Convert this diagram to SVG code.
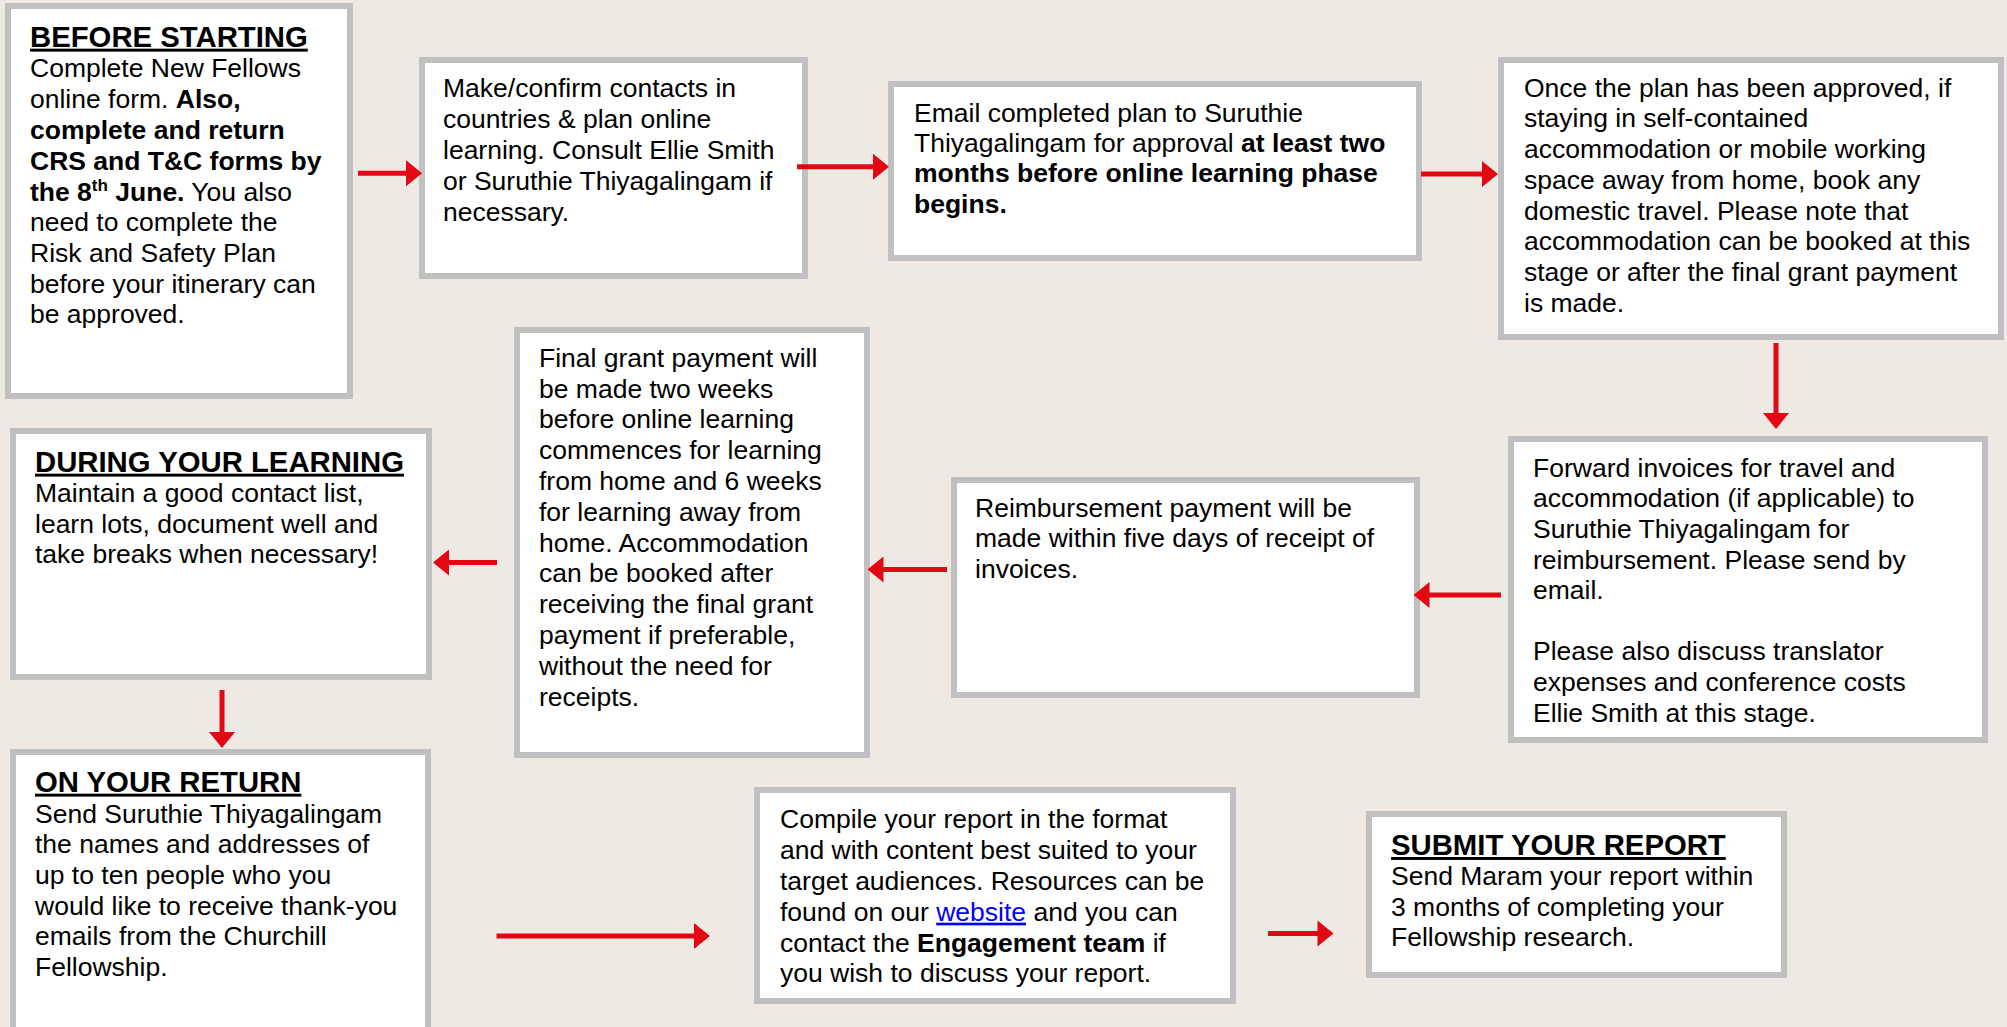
<svg xmlns="http://www.w3.org/2000/svg" width="2007" height="1027" viewBox="0 0 2007 1027">
<style>
.bg{fill:#eee9e3}
.box{fill:#ffffff;stroke:#c0c0c0;stroke-width:6}
.t{font-family:"Liberation Sans",Arial,sans-serif;font-size:26.5px;fill:#000}
.h{font-family:"Liberation Sans",Arial,sans-serif;font-size:29.3px;font-weight:bold;fill:#000;text-decoration:underline;text-decoration-thickness:3.5px}
.b{font-weight:bold}
.lnk{fill:#0000ff;text-decoration:underline}
.arr{stroke:#e30613;stroke-width:5;fill:none;marker-end:url(#ah)}
</style>
<defs>
<marker id="ah" markerUnits="userSpaceOnUse" markerWidth="17" markerHeight="26" viewBox="0 0 16 26" refX="6" refY="13" orient="auto">
<path d="M0,0 L16,13 L0,26 z" fill="#e30613"/>
</marker>
</defs>
<rect class="bg" x="0" y="0" width="2007" height="1027"/>

<g id="before-starting">
<rect class="box" x="8" y="6" width="342" height="390"/>
<text class="h" x="30" y="46.7">BEFORE STARTING</text>
<text class="t">
<tspan x="30" y="77.3">Complete New Fellows</tspan>
<tspan x="30" y="108.3">online form. <tspan class="b">Also,</tspan></tspan>
<tspan x="30" y="139.3" class="b">complete and return</tspan>
<tspan x="30" y="170" class="b">CRS and T&amp;C forms by</tspan>
<tspan x="30" y="200.5" class="b">the 8<tspan font-size="17" dy="-10">th</tspan><tspan dy="10"> June.</tspan></tspan><tspan> You also</tspan>
<tspan x="30" y="231">need to complete the</tspan>
<tspan x="30" y="261.7">Risk and Safety Plan</tspan>
<tspan x="30" y="292.5">before your itinerary can</tspan>
<tspan x="30" y="323.3">be approved.</tspan>
</text>
</g>

<g id="contacts">
<rect class="box" x="422" y="60" width="383" height="216"/>
<text class="t">
<tspan x="443" y="96.7">Make/confirm contacts in</tspan>
<tspan x="443" y="128">countries &amp; plan online</tspan>
<tspan x="443" y="159">learning. Consult Ellie Smith</tspan>
<tspan x="443" y="190">or Suruthie Thiyagalingam if</tspan>
<tspan x="443" y="220.5">necessary.</tspan>
</text>
</g>

<g id="email-plan">
<rect class="box" x="891" y="84" width="528" height="174"/>
<text class="t">
<tspan x="914" y="121.7">Email completed plan to Suruthie</tspan>
<tspan x="914" y="152">Thiyagalingam for approval <tspan class="b">at least two</tspan></tspan>
<tspan x="914" y="182.3" class="b">months before online learning phase</tspan>
<tspan x="914" y="212.7" class="b">begins.</tspan>
</text>
</g>

<g id="plan-approved">
<rect class="box" x="1501" y="60" width="500" height="277"/>
<text class="t">
<tspan x="1524" y="96.7">Once the plan has been approved, if</tspan>
<tspan x="1524" y="127.4">staying in self-contained</tspan>
<tspan x="1524" y="158.1">accommodation or mobile working</tspan>
<tspan x="1524" y="188.8">space away from home, book any</tspan>
<tspan x="1524" y="219.5">domestic travel. Please note that</tspan>
<tspan x="1524" y="250.2">accommodation can be booked at this</tspan>
<tspan x="1524" y="280.9">stage or after the final grant payment</tspan>
<tspan x="1524" y="311.6">is made.</tspan>
</text>
</g>

<g id="forward-invoices">
<rect class="box" x="1511" y="439" width="474" height="301"/>
<text class="t">
<tspan x="1533" y="476.7">Forward invoices for travel and</tspan>
<tspan x="1533" y="507.3">accommodation (if applicable) to</tspan>
<tspan x="1533" y="537.9">Suruthie Thiyagalingam for</tspan>
<tspan x="1533" y="568.5">reimbursement. Please send by</tspan>
<tspan x="1533" y="599.1">email.</tspan>
<tspan x="1533" y="660.3">Please also discuss translator</tspan>
<tspan x="1533" y="690.9">expenses and conference costs</tspan>
<tspan x="1533" y="721.5">Ellie Smith at this stage.</tspan>
</text>
</g>

<g id="reimbursement">
<rect class="box" x="954" y="480" width="463" height="215"/>
<text class="t">
<tspan x="975" y="516.7">Reimbursement payment will be</tspan>
<tspan x="975" y="547.2">made within five days of receipt of</tspan>
<tspan x="975" y="577.7">invoices.</tspan>
</text>
</g>

<g id="final-grant">
<rect class="box" x="517" y="330" width="350" height="425"/>
<text class="t">
<tspan x="539" y="366.7">Final grant payment will</tspan>
<tspan x="539" y="397.5">be made two weeks</tspan>
<tspan x="539" y="428.3">before online learning</tspan>
<tspan x="539" y="459.1">commences for learning</tspan>
<tspan x="539" y="489.9">from home and 6 weeks</tspan>
<tspan x="539" y="520.7">for learning away from</tspan>
<tspan x="539" y="551.5">home. Accommodation</tspan>
<tspan x="539" y="582.3">can be booked after</tspan>
<tspan x="539" y="613.1">receiving the final grant</tspan>
<tspan x="539" y="643.9">payment if preferable,</tspan>
<tspan x="539" y="674.7">without the need for</tspan>
<tspan x="539" y="705.5">receipts.</tspan>
</text>
</g>

<g id="during-learning">
<rect class="box" x="13" y="431" width="416" height="246"/>
<text class="h" x="35" y="471.7">DURING YOUR LEARNING</text>
<text class="t">
<tspan x="35" y="502">Maintain a good contact list,</tspan>
<tspan x="35" y="532.7">learn lots, document well and</tspan>
<tspan x="35" y="563.4">take breaks when necessary!</tspan>
</text>
</g>

<g id="on-return">
<rect class="box" x="13" y="752" width="415" height="300"/>
<text class="h" x="35" y="791.7">ON YOUR RETURN</text>
<text class="t">
<tspan x="35" y="822.6">Send Suruthie Thiyagalingam</tspan>
<tspan x="35" y="853.3">the names and addresses of</tspan>
<tspan x="35" y="884">up to ten people who you</tspan>
<tspan x="35" y="914.7">would like to receive thank-you</tspan>
<tspan x="35" y="945.4">emails from the Churchill</tspan>
<tspan x="35" y="976.1">Fellowship.</tspan>
</text>
</g>

<g id="compile-report">
<rect class="box" x="757" y="790" width="476" height="211"/>
<text class="t">
<tspan x="780" y="828.3">Compile your report in the format</tspan>
<tspan x="780" y="859.1">and with content best suited to your</tspan>
<tspan x="780" y="889.9">target audiences. Resources can be</tspan>
<tspan x="780" y="920.7">found on our <tspan class="lnk">website</tspan> and you can</tspan>
<tspan x="780" y="951.5">contact the <tspan class="b">Engagement team</tspan> if</tspan>
<tspan x="780" y="982.3">you wish to discuss your report.</tspan>
</text>
</g>

<g id="submit-report">
<rect class="box" x="1369" y="814" width="415" height="161"/>
<text class="h" x="1391" y="855">SUBMIT YOUR REPORT</text>
<text class="t">
<tspan x="1391" y="885.2">Send Maram your report within</tspan>
<tspan x="1391" y="915.8">3 months of completing your</tspan>
<tspan x="1391" y="946.4">Fellowship research.</tspan>
</text>
</g>

<g id="connectors">
<line class="arr" x1="358" y1="173.3" x2="412" y2="173.3"/>
<line class="arr" x1="797" y1="166.7" x2="879" y2="166.7"/>
<line class="arr" x1="1421" y1="174" x2="1488" y2="174"/>
<line class="arr" x1="1776" y1="343" x2="1776" y2="419"/>
<line class="arr" x1="1501" y1="595" x2="1423.5" y2="595"/>
<line class="arr" x1="947" y1="569.5" x2="877.5" y2="569.5"/>
<line class="arr" x1="497" y1="562.5" x2="443" y2="562.5"/>
<line class="arr" x1="222" y1="690" x2="222" y2="738"/>
<line class="arr" x1="496.5" y1="936" x2="700" y2="936"/>
<line class="arr" x1="1268" y1="933.5" x2="1323.5" y2="933.5"/>
</g>
</svg>
